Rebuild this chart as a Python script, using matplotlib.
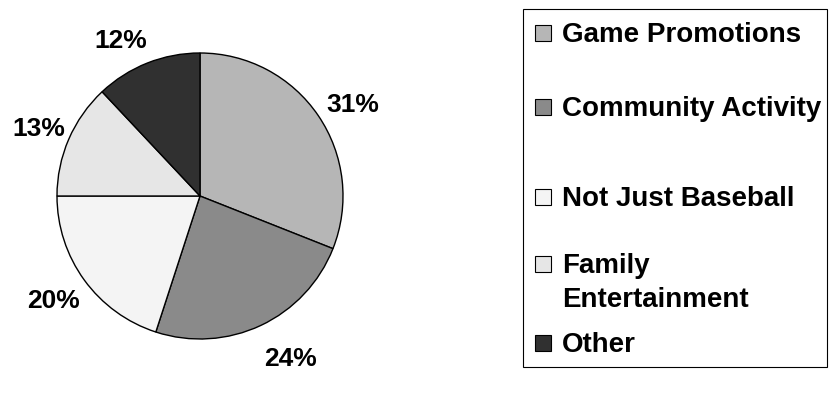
import matplotlib
matplotlib.use("Agg")
import matplotlib.pyplot as plt
import numpy as np
from matplotlib.patches import Rectangle

plt.rcParams['font.family'] = ['Liberation Sans', 'DejaVu Sans']

categories = ["Game Promotions", "Community Activity", "Not Just Baseball",
              "Family\nEntertainment", "Other"]
shares = [31, 24, 20, 13, 12]
colors = ["#b6b6b6", "#8a8a8a", "#f4f4f4", "#e6e6e6", "#303030"]

# label placement tweaks (angle offset in degrees, radial distance)
label_tweak = [(-2.7, 1.25), (4.3, 1.29), (-1.2, 1.25), (0.2, 1.23), (5.1, 1.23)]

fig = plt.figure(figsize=(8.3, 3.97), dpi=100)
ax = fig.add_axes([57/830, 1 - 339/397, 286/830, 286/397])

wedges, _ = ax.pie(shares, colors=colors, startangle=90, counterclock=False,
                   wedgeprops=dict(edgecolor="black", linewidth=1.0))
ax.set_xlim(-1, 1)
ax.set_ylim(-1, 1)

for w, s, (da, dist) in zip(wedges, shares, label_tweak):
    ang = np.deg2rad((w.theta1 + w.theta2) / 2 + da)
    ax.text(dist * np.cos(ang), dist * np.sin(ang), f"{s}%",
            ha="center", va="center_baseline", fontsize=19, fontweight="bold",
            clip_on=False)

# legend box drawn by hand
fig.patches.append(Rectangle((523/830, 1 - 367/397), 304/830, 358/397,
                             transform=fig.transFigure, fill=False,
                             edgecolor="black", linewidth=0.8))
legend_y = [33, 107, 197, 264, 343]
for name, c, y in zip(categories, colors, legend_y):
    fig.patches.append(Rectangle((535/830, 1 - (y + 8)/397), 16/830, 16/397,
                                 transform=fig.transFigure, facecolor=c,
                                 edgecolor="black", linewidth=0.8))
    fig.text(562/830, 1 - (y - 11)/397, name, ha="left", va="top",
             fontsize=20, fontweight="bold", linespacing=1.38)

fig.savefig("out.png", dpi=100, facecolor="white")
